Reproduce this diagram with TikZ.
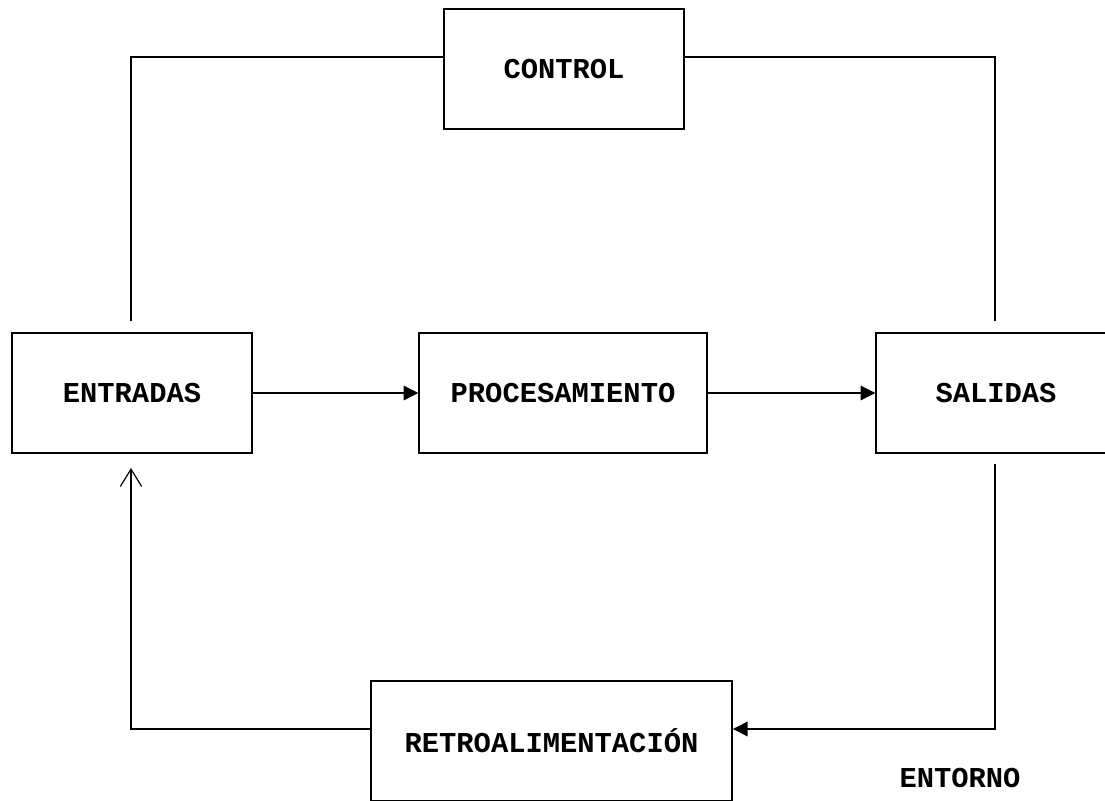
\documentclass[tikz,border=0pt]{standalone}
\usepackage{fontspec}
\setmonofont{Liberation Mono}
\usetikzlibrary{arrows.meta}
\begin{document}
\begin{tikzpicture}[x=0.75pt,y=-0.75pt,
  blockbox/.style={draw=black,line width=1.1pt,fill=white,inner sep=0pt,
    minimum height=90pt,
    font=\ttfamily\bfseries\fontsize{21.6}{26}\selectfont},
  link/.style={draw=black,line width=0.9pt},
  solidtip/.style={-{Triangle[length=11pt,width=11pt]}},
  opentip/.style={-{Straight Barb[length=13pt,width=16pt,line width=0.9pt]}}
]
\useasboundingbox (0,0) rectangle (1105,800);
\clip (0,0) rectangle (1105,800);

% blocks
\node[blockbox,minimum width=180pt] (control) at (564,69) {CONTROL};
\node[blockbox,minimum width=180pt] (entradas) at (132,393) {ENTRADAS};
\node[blockbox,minimum width=216pt] (proc) at (563,393) {PROCESAMIENTO};
\node[blockbox,minimum width=180pt] (salidas) at (996,393) {SALIDAS};
\node[blockbox,minimum width=271pt] (retro) at (551.5,741) {RETROALIMENTACIÓN};

\node[font=\ttfamily\bfseries\fontsize{21.6}{26}\selectfont,inner sep=0pt] (entorno) at (960,778) {ENTORNO};

% free ends of the loop lines
\coordinate (inTop) at (131,321);
\coordinate (outTop) at (995,321);
\coordinate (outBot) at (995,464);
\coordinate (inBot) at (131,468);

% main flow
\draw[link,solidtip] (entradas.east) -- (proc.west);
\draw[link,solidtip] (proc.east) -- (salidas.west);

% control loop
\draw[link] (inTop) |- (control.west |- 0,57) -- (control.west |- 0,57);
\draw[link] (control.east |- 0,57) -| (outTop);

% feedback loop
\draw[link,solidtip] (outBot) |- (retro.east |- 0,729);
\draw[link,opentip] (retro.west |- 0,729) -| (inBot);
\end{tikzpicture}
\end{document}
